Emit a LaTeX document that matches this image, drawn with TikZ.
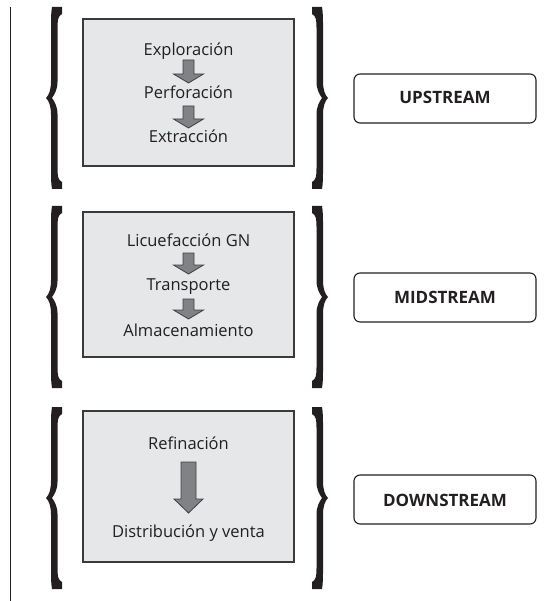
\documentclass[tikz,border=0pt]{standalone}
\usepackage{fontspec}
\setmainfont{Open Sans}
\definecolor{txt}{HTML}{231F20}
\definecolor{boxfill}{HTML}{E6E7E8}
\definecolor{boxline}{HTML}{3A3A3A}
\definecolor{arrfill}{HTML}{808285}
\definecolor{arrline}{HTML}{414042}
\tikzset{
  stagebox/.style={draw=boxline, fill=boxfill, line width=1.1pt},
  steptext/.style={anchor=base, text=txt, font=\fontsize{16.5}{19}\selectfont, inner sep=0pt},
  labelbox/.style={draw=txt, line width=1.1pt, rounded corners=6pt, minimum width=182pt, minimum height=49pt, inner sep=0pt},
  labeltext/.style={anchor=base, text=txt, font=\bfseries\fontsize{17}{19}\selectfont, inner sep=0pt},
  bracefill/.style={fill=txt, draw=none},
  blockarrowstyle/.style={fill=arrfill, draw=arrline, line width=0.8pt, line join=miter},
}
% #1 cx, #2 ytop, #3 ybottom, #4 shaft half width, #5 head half width, #6 head length
\newcommand{\myblockarrow}[6]{%
  \draw[blockarrowstyle] (#1-#4,#2) -- (#1+#4,#2) -- (#1+#4,#3-#6) -- (#1+#5,#3-#6) -- (#1,#3) -- (#1-#5,#3-#6) -- (#1-#4,#3-#6) -- cycle;}
\newcommand{\mybracepath}{%
  (6,-91) -- (16,-91) -- (16,-84) .. controls (12,-82) and (11.5,-78) .. (11.5,-70) -- (11.5,-16) .. controls (11.5,-8) and (8,-3) .. (6,0) .. controls (8,3) and (11.5,8) .. (11.5,16) -- (11.5,70) .. controls (11.5,78) and (12,82) .. (16,84) -- (16,91) -- (6,91) .. controls (5,85) and (5,80) .. (5,72) -- (5,17) .. controls (5,8) and (3,3) .. (0,0) .. controls (3,-3) and (5,-8) .. (5,-17) -- (5,-72) .. controls (5,-80) and (5,-85) .. (6,-91) -- cycle}
\begin{document}
\begin{tikzpicture}[x=1pt,y=-1pt]
\useasboundingbox (0,0) rectangle (551,601);
% vertical line
\coordinate (vtop) at (10,7);
\coordinate (vbot) at (10,601);
\draw[line width=1pt, draw=txt] (vtop) -- (vbot);

% ===== UPSTREAM =====
\draw[stagebox] (83,19) rectangle (294,166);
\fill[bracefill, shift={(46,98)}] \mybracepath;
\fill[bracefill, shift={(328,98)}, xscale=-1] \mybracepath;
\node[steptext] (explo) at (188.5,56) {Exploración};
\node[steptext] (perfo) at (188.5,99) {Perforación};
\node[steptext] (extra) at (188.5,143) {Extracción};
\myblockarrow{188.5}{60}{83}{5.5}{15}{9}
\myblockarrow{188.5}{106}{128}{5.5}{15}{9}
\node[labelbox] (up) at (445,98.5) {};
\node[labeltext] (uptext) at (445,104) {UPSTREAM};

% ===== MIDSTREAM =====
\draw[stagebox] (83,212) rectangle (294,357);
\fill[bracefill, shift={(46,297)}] \mybracepath;
\fill[bracefill, shift={(328,297)}, xscale=-1] \mybracepath;
\node[steptext] (licue) at (188.5,247) {Licuefacción GN};
\node[steptext] (trans) at (188.5,290) {Transporte};
\node[steptext] (almac) at (188.5,336) {Almacenamiento};
\myblockarrow{188.5}{253}{274}{5.5}{15}{9}
\myblockarrow{188.5}{299}{319}{5.5}{15}{9}
\node[labelbox] (mid) at (445,297.5) {};
\node[labeltext] (midtext) at (445,303) {MIDSTREAM};

% ===== DOWNSTREAM =====
\draw[stagebox] (83,411) rectangle (294,562);
\fill[bracefill, shift={(46,498)}] \mybracepath;
\fill[bracefill, shift={(328,498)}, xscale=-1] \mybracepath;
\node[steptext] (refin) at (188.5,449) {Refinación};
\node[steptext] (distr) at (188.5,537) {Distribución y venta};
\myblockarrow{188.5}{462}{513}{7.5}{14.5}{14}
\node[labelbox] (down) at (445,499.5) {};
\node[labeltext] (downtext) at (445,506) {DOWNSTREAM};
\end{tikzpicture}
\end{document}
